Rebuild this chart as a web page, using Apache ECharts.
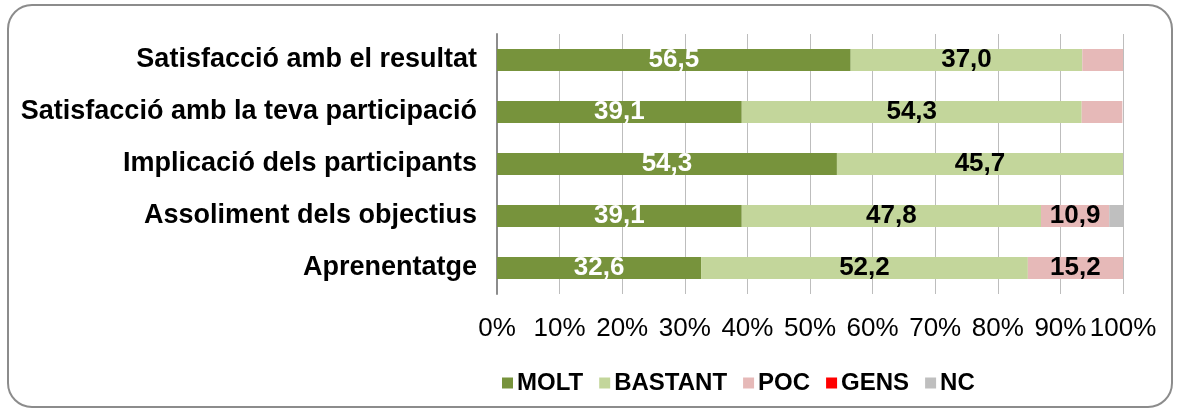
<!DOCTYPE html>
<html>
<head>
<meta charset="utf-8">
<script src="https://cdn.jsdelivr.net/npm/echarts@6/dist/echarts.min.js"></script>
<style>
  html, body { margin: 0; padding: 0; background: #fff; }
  #chart { width: 1182px; height: 412px; }
</style>
</head>
<body>
<div id="chart"></div>
<script>
// categories top to bottom
var categories = [
  'Satisfacció amb el resultat',
  'Satisfacció amb la teva participació',
  'Implicació dels participants',
  'Assoliment dels objectius',
  'Aprenentatge'
];
var molt    = [56.5, 39.1, 54.3, 39.1, 32.6];
var bastant = [37.0, 54.3, 45.7, 47.8, 52.2];
var poc     = [6.5, 6.5, 0, 10.9, 15.2];
var gens    = [0, 0, 0, 0, 0];
var nc      = [0, 0, 0, 2.2, 0];

var FONT = '"Liberation Sans", Arial, sans-serif';

// hide the small values, like the original
function lbl(color) {
  return {
    show: true,
    position: 'inside',
    color: color,
    fontFamily: FONT,
    fontWeight: 'bold',
    fontSize: 26,
    formatter: function (p) {
      if (p.value < 8) return '';
      return p.value.toFixed(1).replace('.', ',');
    }
  };
}

function serie(name, data, color, labelColor) {
  return {
    name: name,
    type: 'bar',
    stack: 'total',
    barWidth: 22,
    data: data,
    itemStyle: { color: color },
    label: labelColor ? lbl(labelColor) : { show: false },
    silent: true
  };
}

var chart = echarts.init(document.getElementById('chart'));
chart.setOption({
  animation: false,
  backgroundColor: '#fff',
  graphic: [{
    type: 'rect',
    shape: { x: 8, y: 5, width: 1164, height: 402, r: 24 },
    style: { fill: 'none', stroke: '#8c8c8c', lineWidth: 2 },
    z: -1
  }],
  grid: { left: 497, right: 59, top: 34, bottom: 118 },
  legend: {
    top: 366,
    left: 497,
    itemWidth: 11,
    itemHeight: 11,
    itemGap: 16,
    icon: 'rect',
    textStyle: { fontFamily: FONT, fontWeight: 'bold', fontSize: 24, color: '#000', padding: [0, 0, 0, -1] },
    data: ['MOLT', 'BASTANT', 'POC', 'GENS', 'NC']
  },
  xAxis: {
    type: 'value',
    min: 0,
    max: 100,
    interval: 10,
    axisLine: { show: false },
    axisTick: { show: false },
    splitLine: { lineStyle: { color: '#bdbdbd', width: 1 } },
    axisLabel: {
      formatter: '{value}%',
      color: '#000',
      fontFamily: FONT,
      fontSize: 26,
      margin: 22
    }
  },
  yAxis: [{
    type: 'category',
    inverse: true,
    data: categories,
    axisLine: { lineStyle: { color: '#8c8c8c', width: 2 } },
    axisTick: { length: 6, lineStyle: { color: '#8c8c8c', width: 2 } },
    axisLabel: {
      color: '#000',
      fontFamily: FONT,
      fontWeight: 'bold',
      fontSize: 27,
      margin: 20
    }
  }, {
    type: 'category',
    position: 'left',
    inverse: true,
    data: categories,
    axisLine: { show: false },
    axisTick: { inside: true, length: 5, lineStyle: { color: '#8c8c8c', width: 2 } },
    axisLabel: { show: false }
  }],
  series: [
    serie('MOLT', molt, '#77933C', '#fff'),
    serie('BASTANT', bastant, '#C3D69B', '#000'),
    serie('POC', poc, '#E6B9B8', '#000'),
    serie('GENS', gens, '#FF0000', null),
    serie('NC', nc, '#BFBFBF', null)
  ]
});
</script>
</body>
</html>
